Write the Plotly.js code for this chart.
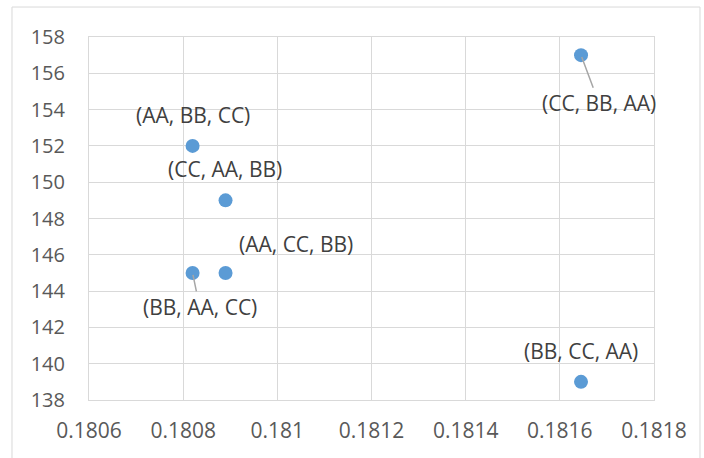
<!DOCTYPE html>
<html>
<head>
<meta charset="utf-8">
<script src="https://cdn.plot.ly/plotly-3.0.1.min.js"></script>
<style>html,body{margin:0;padding:0;background:#fff}#chart{width:704px;height:458px}</style>
</head>
<body>
<div id="chart"></div>
<script>
const xValues = [0.18082, 0.18089, 0.18082, 0.18089, 0.181645, 0.181645];
const yValues = [152, 149, 145, 145, 157, 139];
const pointLabels = ["(AA, BB, CC)", "(CC, AA, BB)", "(BB, AA, CC)", "(AA, CC, BB)", "(CC, BB, AA)", "(BB, CC, AA)"];
const xTicks = [0.1806, 0.1808, 0.181, 0.1812, 0.1814, 0.1816, 0.1818];
const xTickText = ["0.1806", "0.1808", "0.181", "0.1812", "0.1814", "0.1816", "0.1818"];
const yTicks = [138, 140, 142, 144, 146, 148, 150, 152, 154, 156, 158];

// label placement (styling only)
const place = [
  {xs: 0, ys: 31},
  {xs: -1, ys: 31},
  {arrow: true, ax: 7, ay: 34},
  {xs: 70, ys: 29},
  {arrow: true, ax: 18, ay: 48},
  {xs: 0, ys: 31}
];

const fontFam = "'Open Sans', 'Liberation Sans', sans-serif";
const annotations = pointLabels.map((t, i) => {
  const p = place[i];
  const a = {x: xValues[i], y: yValues[i], xref: 'x', yref: 'y', text: t,
    font: {family: fontFam, size: 21, color: '#404040'}};
  if (p.arrow) {
    Object.assign(a, {showarrow: true, ax: p.ax, ay: p.ay, arrowhead: 0, arrowwidth: 1.5, arrowcolor: '#A6A6A6', standoff: 2});
  } else {
    Object.assign(a, {showarrow: false, xshift: p.xs, yshift: p.ys});
  }
  return a;
});

const trace = {
  x: xValues, y: yValues, type: 'scatter', mode: 'markers',
  marker: {size: 14, color: '#5B9BD5'}, hoverinfo: 'x+y'
};

const layout = {
  width: 704, height: 458,
  margin: {l: 89, r: 50, t: 37, b: 58, pad: 0},
  paper_bgcolor: '#fff', plot_bgcolor: '#fff',
  showlegend: false,
  font: {family: fontFam, size: 20, color: '#595959'},
  xaxis: {
    range: [0.1806, 0.1818], tickvals: xTicks, ticktext: xTickText,
    showgrid: true, gridcolor: '#D9D9D9', gridwidth: 1,
    showline: true, linecolor: '#D9D9D9', linewidth: 1, mirror: true,
    zeroline: false, ticks: '', ticklabelstandoff: 12,
    tickfont: {family: fontFam, size: 21, color: '#595959'}
  },
  yaxis: {
    range: [138, 158], tickvals: yTicks,
    showgrid: true, gridcolor: '#D9D9D9', gridwidth: 1,
    showline: true, linecolor: '#D9D9D9', linewidth: 1, mirror: true,
    zeroline: false, ticks: '', ticklabelstandoff: 19,
    tickfont: {family: fontFam, size: 20, color: '#595959'}
  },
  annotations: annotations,
  shapes: [{
    type: 'rect', xref: 'paper', yref: 'paper',
    x0: -0.1363, x1: 1.0814, y0: -0.17, y1: 1.0826,
    line: {color: '#D9D9D9', width: 1}, fillcolor: 'rgba(0,0,0,0)', layer: 'below'
  }]
};

Plotly.newPlot('chart', [trace], layout, {displayModeBar: false, staticPlot: true});
</script>
</body>
</html>
